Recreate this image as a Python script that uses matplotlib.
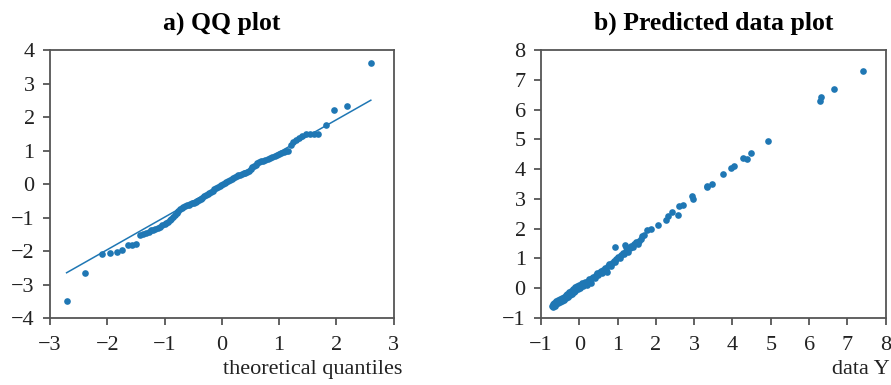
import matplotlib
matplotlib.use("Agg")
import matplotlib.pyplot as plt
import numpy as np

plt.rcParams['font.family'] = ['Liberation Serif', 'DejaVu Serif']

# --- a) QQ plot: theoretical quantiles vs ordered residuals (read off the picture)
qq_theo = [-2.71, -2.39, -2.10, -1.95, -1.83, -1.74, -1.64, -1.56, -1.50, -1.43,
           -1.38, -1.33, -1.28, -1.24, -1.20, -1.16, -1.12, -1.08, -1.04, -1.00,
           -0.97, -0.94, -0.91, -0.88, -0.85, -0.82, -0.79, -0.76, -0.73, -0.70,
           -0.67, -0.64, -0.61, -0.58, -0.55, -0.52, -0.49, -0.46, -0.43, -0.40,
           -0.37, -0.34, -0.31, -0.28, -0.25, -0.22, -0.19, -0.16, -0.13, -0.10,
           -0.07, -0.04, -0.01, 0.02, 0.05, 0.08, 0.11, 0.14, 0.17, 0.20,
           0.23, 0.26, 0.29, 0.32, 0.35, 0.38, 0.41, 0.44, 0.47, 0.50,
           0.53, 0.56, 0.59, 0.62, 0.65, 0.68, 0.72, 0.76, 0.80, 0.84,
           0.88, 0.92, 0.96, 1.00, 1.04, 1.08, 1.12, 1.16, 1.20, 1.24,
           1.29, 1.34, 1.40, 1.46, 1.53, 1.60, 1.68, 1.81, 1.96, 2.18, 2.60]
qq_sample = [-3.50, -2.66, -2.08, -2.05, -2.02, -1.97, -1.83, -1.82, -1.79, -1.52,
             -1.50, -1.46, -1.42, -1.38, -1.36, -1.33, -1.30, -1.27, -1.23, -1.19,
             -1.15, -1.12, -1.08, -1.03, -0.98, -0.93, -0.87, -0.80, -0.75, -0.71,
             -0.68, -0.66, -0.64, -0.62, -0.59, -0.57, -0.56, -0.53, -0.50, -0.47,
             -0.44, -0.41, -0.37, -0.34, -0.31, -0.28, -0.24, -0.20, -0.16, -0.12,
             -0.09, -0.06, -0.03, 0.00, 0.03, 0.06, 0.09, 0.12, 0.15, 0.18,
             0.21, 0.24, 0.26, 0.28, 0.30, 0.32, 0.34, 0.36, 0.40, 0.45,
             0.50, 0.55, 0.58, 0.62, 0.65, 0.68, 0.70, 0.73, 0.75, 0.78,
             0.82, 0.85, 0.88, 0.91, 0.94, 0.97, 0.99, 1.00, 1.18, 1.24,
             1.30, 1.38, 1.44, 1.48, 1.49, 1.50, 1.50, 1.77, 2.20, 2.34, 3.60]
qq_line_slope = 0.97
qq_line_intercept = -0.02

# --- b) Predicted vs data Y
data_y = [-0.72, -0.70, -0.69, -0.67, -0.66, -0.64, -0.63, -0.61, -0.60, -0.58,
          -0.56, -0.55, -0.53, -0.51, -0.50, -0.48, -0.46, -0.45, -0.43, -0.41,
          -0.40, -0.38, -0.36, -0.35, -0.33, -0.31, -0.30, -0.28, -0.26, -0.25,
          -0.23, -0.21, -0.20, -0.18, -0.16, -0.15, -0.13, -0.11, -0.10, -0.08,
          -0.06, -0.04, -0.02, 0.00, 0.02, 0.05, 0.08, 0.10, 0.13, 0.16,
          0.19, 0.22, 0.25, 0.28, 0.30, 0.33, 0.36, 0.40, 0.43, 0.46,
          0.50, 0.53, 0.57, 0.60, 0.63, 0.67, 0.70, 0.72, 0.75, 0.78,
          0.82, 0.86, 0.90, 0.93, 0.93, 0.97, 1.01, 1.05, 1.09, 1.13,
          1.17, 1.19, 1.21, 1.22, 1.25, 1.28, 1.32, 1.36, 1.40, 1.44,
          1.48, 1.52, 1.56, 1.60, 1.64, 1.68, 1.76, 1.87, 2.06, 2.26,
          2.32, 2.43, 2.57, 2.61, 2.72, 2.93, 2.98, 3.33, 3.34, 3.47,
          3.76, 3.96, 4.05, 4.28, 4.37, 4.48, 4.92, 6.28, 6.31, 6.66, 7.40]
predicted = [-0.58, -0.62, -0.52, -0.56, -0.48, -0.60, -0.50, -0.44, -0.54, -0.47,
             -0.40, -0.50, -0.43, -0.36, -0.46, -0.39, -0.32, -0.42, -0.35, -0.28,
             -0.38, -0.30, -0.24, -0.34, -0.26, -0.19, -0.29, -0.21, -0.14, -0.24,
             -0.16, -0.08, -0.19, -0.11, -0.02, -0.14, -0.05, 0.03, -0.08, 0.00,
             0.08, -0.03, 0.05, 0.12, 0.02, 0.10, 0.16, 0.06, 0.15, 0.22,
             0.12, 0.24, 0.30, 0.22, 0.17, 0.33, 0.38, 0.36, 0.45, 0.50,
             0.44, 0.55, 0.58, 0.52, 0.62, 0.68, 0.61, 0.55, 0.74, 0.80,
             0.75, 0.85, 0.92, 0.88, 1.37, 0.98, 1.05, 1.02, 1.12, 1.18,
             1.14, 1.46, 1.24, 1.40, 1.30, 1.22, 1.36, 1.42, 1.38, 1.48,
             1.54, 1.50, 1.60, 1.66, 1.74, 1.78, 1.94, 1.99, 2.11, 2.28,
             2.41, 2.56, 2.47, 2.75, 2.80, 3.11, 3.00, 3.41, 3.45, 3.50,
             3.85, 4.04, 4.12, 4.39, 4.34, 4.54, 4.96, 6.30, 6.42, 6.69, 7.31]

blue = '#1f77b4'
spine_col = '#555555'
fs = 16

fig = plt.figure(figsize=(8.91, 3.85), dpi=100)
ax1 = fig.add_axes([0.0561, 0.174, 0.3858, 0.696])
ax2 = fig.add_axes([0.6072, 0.174, 0.3868, 0.696])


def style(ax):
    for s in ax.spines.values():
        s.set_color(spine_col)
        s.set_linewidth(1.3)
    ax.tick_params(axis='both', direction='out', length=5, width=1.3,
                   color=spine_col, labelsize=fs, labelcolor='#222222', pad=6)
    ax.tick_params(axis='x', pad=8)


# a) QQ
ax1.plot(qq_theo, qq_sample, 'o', color=blue, markersize=4.8, markeredgewidth=0)
xl = np.array([min(qq_theo), max(qq_theo)])
ax1.plot(xl, qq_line_slope * xl + qq_line_intercept, '-', color=blue, linewidth=1.1)
ax1.set_xlim(-3, 3)
ax1.set_ylim(-4, 4)
ax1.set_xticks(range(-3, 4))
ax1.set_yticks(range(-4, 5))
style(ax1)
ax1.set_title('a) QQ plot', fontsize=18.5, fontweight='bold', pad=15)
ax1.set_xlabel('theoretical quantiles', fontsize=fs, loc='right', color='#222222')
ax1.xaxis.set_label_coords(1.025, -0.155)

# b) predicted
ax2.plot(data_y, predicted, 'o', color=blue, markersize=4.8, markeredgewidth=0)
ax2.set_xlim(-1, 8)
ax2.set_ylim(-1, 8)
ax2.set_xticks(range(-1, 9))
ax2.set_yticks(range(-1, 9))
style(ax2)
ax2.set_title('b) Predicted data plot', fontsize=18.5, fontweight='bold', pad=15)
ax2.set_xlabel('data Y', fontsize=fs, loc='right', color='#222222')
ax2.xaxis.set_label_coords(1.013, -0.155)

fig.savefig('out.png', dpi=100)
